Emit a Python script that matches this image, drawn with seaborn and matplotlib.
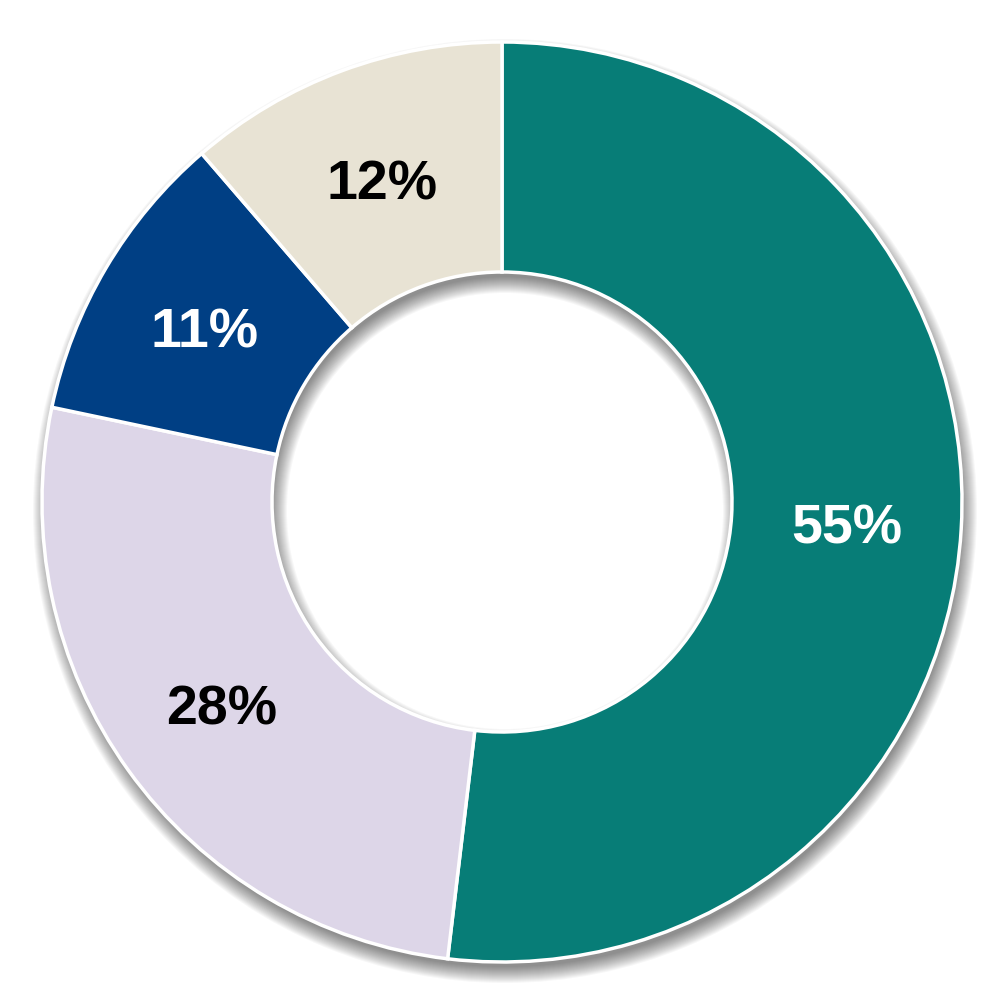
import matplotlib
matplotlib.use("Agg")
import matplotlib.pyplot as plt
import seaborn as sns
import numpy as np

labels = ["55%", "28%", "11%", "12%"]
values = [55, 28, 11, 12]
colors = ["#077d77", "#ddd6e8", "#003f84", "#e8e3d4"]
text_colors = ["white", "black", "white", "black"]

sns.set_theme(style="white")
plt.rcParams['font.family'] = ['Liberation Sans', 'DejaVu Sans']

fig = plt.figure(figsize=(10.01, 10.01), dpi=100)
ax = fig.add_axes([0, 0, 1, 1])
ax.set_xlim(-502, 499)
ax.set_ylim(-499, 502)
ax.set_aspect('equal')
ax.axis('off')

R = 460
W = 230

# soft drop shadow
for s in np.linspace(-4, 12, 17):
    ax.pie([1], radius=R + s, center=(3, -9), colors=["black"],
           wedgeprops=dict(width=W + 2 * s, linewidth=0, alpha=0.032),
           frame=True)

wedges, texts, autotexts = ax.pie(
    values, radius=R, colors=colors, startangle=90, counterclock=False,
    wedgeprops=dict(width=W, edgecolor="white", linewidth=2.5),
    autopct=lambda p: "", pctdistance=0.75, frame=True)

for at, lab, tc in zip(autotexts, labels, text_colors):
    at.set_text(lab)
    at.set_color(tc)
    at.set_fontsize(40)
    at.set_fontweight("bold")
    x, y = at.get_position()
    at.set_position((x, y - 7))

ax.set_xlim(-502, 499)
ax.set_ylim(-499, 502)
ax.axis('off')
fig.savefig("out.png", dpi=100)
